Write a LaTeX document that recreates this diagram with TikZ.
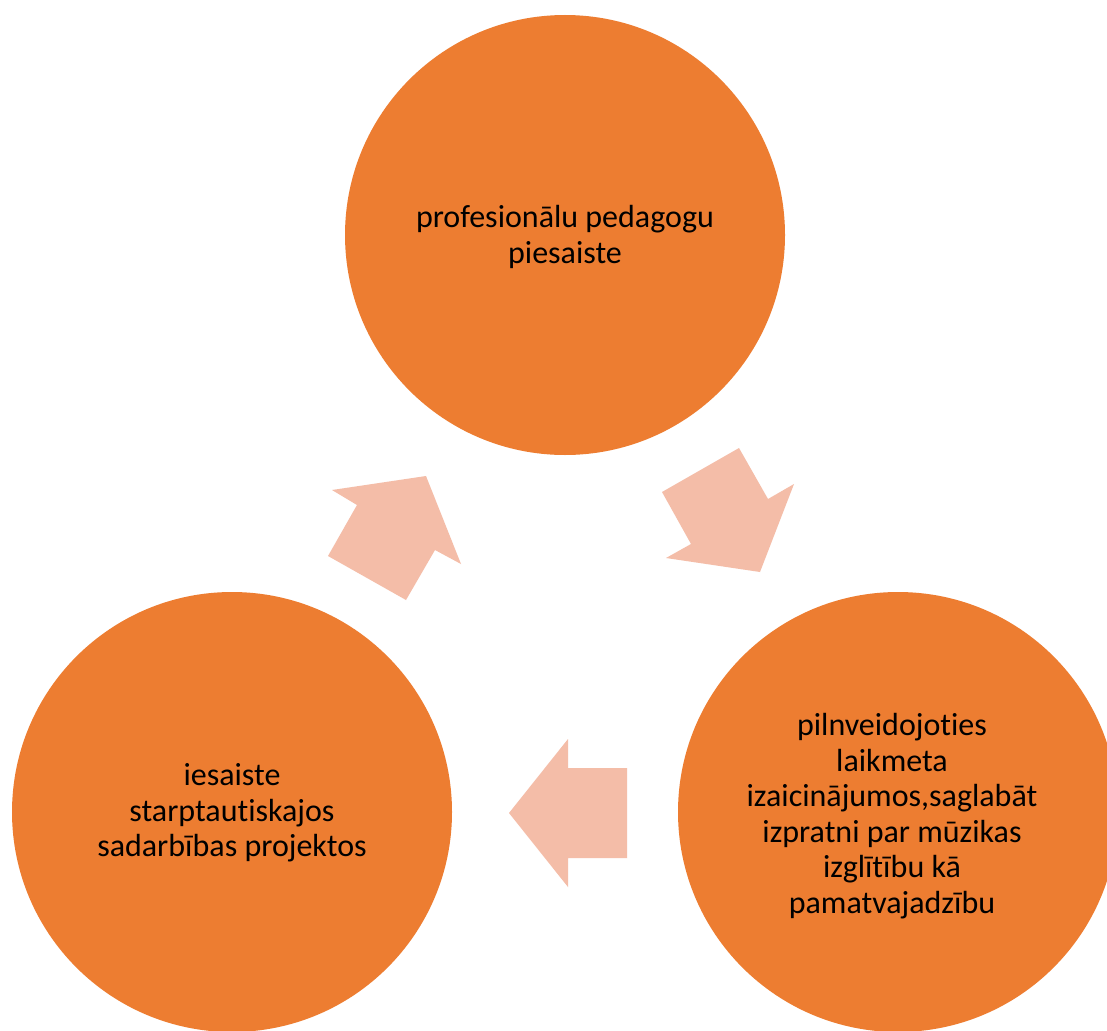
\documentclass[tikz,border=0pt]{standalone}
\usepackage{fontspec}
\setmainfont{Carlito}[Ligatures=NoCommon]
\definecolor{circ}{HTML}{ED7D31}
\definecolor{arr}{HTML}{F4BDA8}
\begin{document}
\begin{tikzpicture}[x=1pt,y=-1pt,
  bubble/.style={circle,fill=circ,minimum size=440pt,inner sep=0pt},
  label/.style={align=center,font=\fontsize{32}{35.5}\selectfont,text=black},
  blockarrow/.style={fill=arr,draw=none}]
\useasboundingbox (0,0) rectangle (1107,1030);
\clip (0,0) rectangle (1107,1030);
\fill[white] (0,0) rectangle (1107,1030);
\node[bubble] (top) at (565,235) {};
\node[bubble] (left) at (232,812) {};
\node[bubble] (right) at (898,812) {};
\node[label] (ttop) at (565,237) {profesionālu pedagogu\\piesaiste};
\node[label] (tleft) at (232,813) {iesaiste\\starptautiskajos\\sadarbības projektos};
\node[label] (tright) at (892,816) {pilnveidojoties\\laikmeta\\izaicinājumos,saglabāt\\izpratni par mūzikas\\izglītību kā\\pamatvajadzību};
% arrow from left circle to top circle
\fill[blockarrow] (332,490) -- (426,476) -- (461,564) -- (435,550) -- (406,600) -- (328,556) -- (357,505) -- cycle;
% arrow from top circle to right circle
\fill[blockarrow] (662,492) -- (739,448) -- (768,499) -- (794,484) -- (760,572) -- (666,558) -- (691,544) -- cycle;
% arrow from right circle to left circle
\fill[blockarrow] (568,739) -- (568,768) -- (627,768) -- (627,858) -- (568,858) -- (568,887) -- (509,813) -- cycle;
\end{tikzpicture}
\end{document}
